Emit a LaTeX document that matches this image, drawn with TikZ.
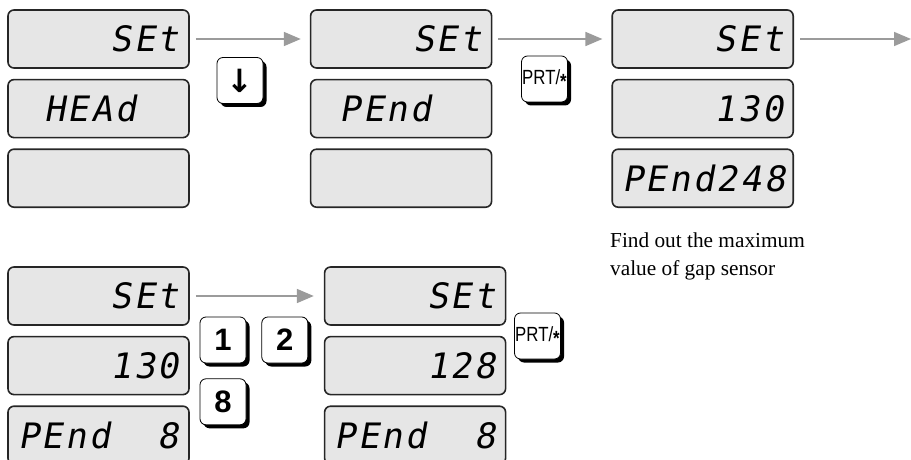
\documentclass[tikz,border=0pt]{standalone}
\usepackage{fontspec}
\setmainfont{Liberation Serif}
\newfontfamily\lcdfont{DejaVu Sans Mono}[LetterSpace=7.5,FakeSlant=0.18]
\newfontfamily\keyfont{Liberation Sans}
\newfontfamily\prtfont{Liberation Sans}[FakeStretch=0.82]
\newfontfamily\symfont{DejaVu Sans}
\usepackage{tikz}
\usetikzlibrary{arrows.meta,positioning,shadows}
\definecolor{lcdgray}{HTML}{E6E6E6}
\definecolor{flowgray}{HTML}{9B9B9B}
\newcommand{\lcdgap}{\hspace{0pt plus 1filll}}

\begin{document}
\begin{tikzpicture}[x=1pt,y=-1pt,node distance=10pt and 120pt,every node/.style={inner sep=0pt},lcd/.style={draw=black!85,line width=1.6pt,fill=lcdgray,rounded corners=6pt,minimum width=181pt,minimum height=58pt,text width=161pt,align=right,font=\lcdfont\fontsize{35}{35}\selectfont},lcdleft/.style={lcd,align=left},key/.style={draw=black,line width=0.8pt,fill=white,rounded corners=6pt,minimum width=46pt,minimum height=46pt,drop shadow={shadow xshift=3.5pt,shadow yshift=-3.5pt,fill=black,opacity=1}},numkey/.style={key,font=\keyfont\bfseries\fontsize{31}{31}\selectfont},prtkey/.style={key,font=\prtfont\fontsize{20.5}{20.5}\selectfont},flow/.style={draw=flowgray,line width=1.7pt,-{Triangle[length=17pt,width=14pt]}}]
\useasboundingbox (0,0) rectangle (911,460);
% upper row
\node[lcd] (a1) at (98.5,39) {SEt};
\node[lcdleft,below=of a1] (a2) {\hspace*{26pt}HEAd};
\node[lcd,below=of a2] (a3) {};
\node[lcd,right=of a1] (b1) {SEt};
\node[lcdleft,below=of b1] (b2) {\hspace*{19pt}PEnd};
\node[lcd,below=of b2] (b3) {};
\node[lcd,right=119pt of b1] (e1) {SEt};
\node[lcd,below=of e1] (e2) {130};
\node[lcd,below=of e2] (e3) {PEnd248};
\coordinate (out) at (911,39);
\node[key,font=\symfont\bfseries\fontsize{32}{32}\selectfont] (kdown) at (240,80.5) {↓};
\node[prtkey] (kprt) at (544.5,79) {PRT/\raisebox{-0.22em}{\bfseries *}};
\draw[flow,shorten <=6pt,shorten >=9pt] (a1) -- (b1);
\draw[flow,shorten <=6pt,shorten >=9pt] (b1) -- (e1);
\draw[flow,shorten <=6pt] (e1) -- (out);
\node[anchor=north west,align=left,font=\fontsize{21.3}{28}\selectfont] (note) at (610,233) {Find out the maximum\\value of gap sensor};
% lower row
\node[lcd] (c1) at (98.5,296) {SEt};
\node[lcd,below=of c1] (c2) {130};
\node[lcd,below=of c2] (c3) {PEnd\lcdgap 8};
\node[lcd,right=134pt of c1] (d1) {SEt};
\node[lcd,below=of d1] (d2) {128};
\node[lcd,below=of d2] (d3) {PEnd\lcdgap 8};
\node[numkey] (k1) at (223,340) {1};
\node[numkey,right=15pt of k1] (k2) {2};
\node[numkey,below=15pt of k1] (k8) {8};
\node[prtkey] (kprt2) at (537.5,336) {PRT/\raisebox{-0.22em}{\bfseries *}};
\draw[flow,shorten <=6pt,shorten >=10pt] (c1) -- (d1);
\end{tikzpicture}
\end{document}
